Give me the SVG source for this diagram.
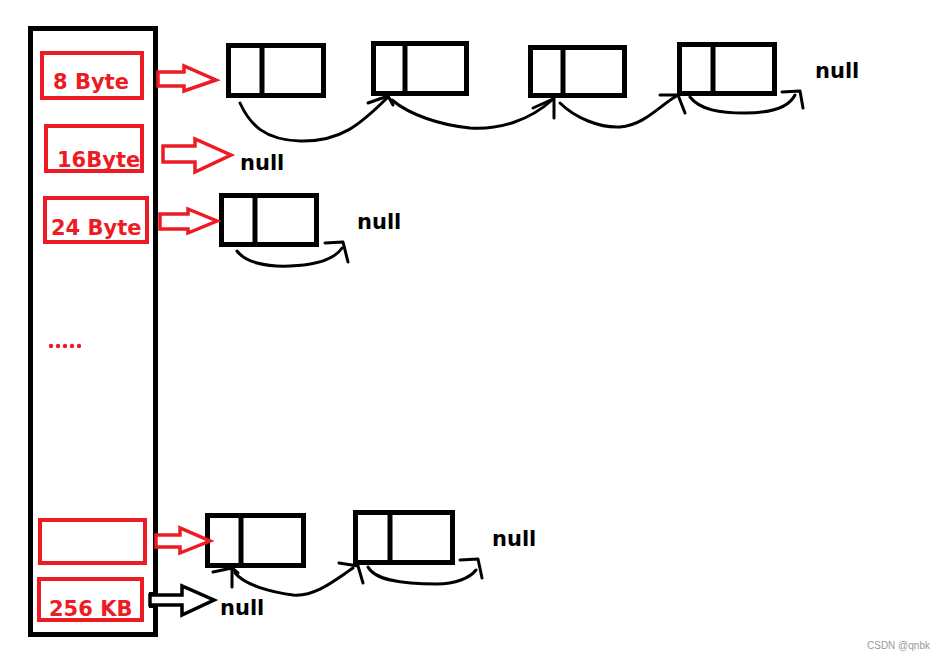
<svg xmlns="http://www.w3.org/2000/svg" width="939" height="661" viewBox="0 0 939 661">
<style>
.bg{fill:#fff}
.cont{fill:none;stroke:#000;stroke-width:5}
.slot{fill:none;stroke:#ed1c24;stroke-width:4}
.lbl{font-family:"DejaVu Sans",sans-serif;font-weight:bold;font-size:21px;fill:#ed1c24}
.nul{font-family:"DejaVu Sans",sans-serif;font-weight:bold;font-size:21px;fill:#000}
.node{fill:#fff;stroke:#000;stroke-width:5}
.div{stroke:#000;stroke-width:5}
.rarr{fill:#fff;stroke:#ed1c24;stroke-width:3.5;stroke-linejoin:miter}
.barr{fill:#fff;stroke:#000;stroke-width:3.5;stroke-linejoin:miter}
.cur{fill:none;stroke:#000;stroke-width:3;stroke-linecap:round;stroke-linejoin:round}
.wm{font-family:"Liberation Sans",Arial,sans-serif;font-size:10px;fill:#999}
</style>
<rect class="bg" x="0" y="0" width="939" height="661"/>
<g id="container">
<rect class="cont" x="30.5" y="28.5" width="125" height="606"/>
</g>
<g id="slot-8">
<rect class="slot" x="42" y="53" width="100" height="45"/>
<text class="lbl" x="53" y="89">8 Byte</text>
</g>
<g id="slot-16">
<rect class="slot" x="46" y="126" width="96" height="45"/>
<text class="lbl" x="57" y="167">16Byte</text>
</g>
<g id="slot-24">
<rect class="slot" x="45" y="198" width="102" height="44"/>
<text class="lbl" x="51" y="235">24 Byte</text>
</g>
<g id="dots" fill="#ed1c24">
<circle cx="51" cy="346" r="2.2"/><circle cx="58" cy="346" r="2.2"/><circle cx="65" cy="346" r="2.2"/><circle cx="72" cy="346" r="2.2"/><circle cx="79" cy="346" r="2.2"/>
</g>
<g id="slot-empty">
<rect class="slot" x="40" y="520" width="105" height="43"/>
</g>
<g id="slot-256k">
<rect class="slot" x="39" y="579" width="103" height="41"/>
<text class="lbl" x="49" y="616">256 KB</text>
</g>
<g id="row1-n1"><rect class="node" x="228.5" y="45.5" width="95" height="50"/><line class="div" x1="262" y1="45" x2="262" y2="96"/></g>
<g id="row1-n2"><rect class="node" x="373.5" y="43.5" width="93" height="50"/><line class="div" x1="405" y1="43" x2="405" y2="94"/></g>
<g id="row1-n3"><rect class="node" x="530.5" y="47.5" width="94" height="48"/><line class="div" x1="563" y1="47" x2="563" y2="96"/></g>
<g id="row1-n4"><rect class="node" x="679.5" y="44.5" width="95" height="49"/><line class="div" x1="713" y1="44" x2="713" y2="94"/></g>
<g id="row3-n1"><rect class="node" x="221.5" y="195.5" width="95" height="49"/><line class="div" x1="255" y1="195" x2="255" y2="245"/></g>
<g id="rowb-n1"><rect class="node" x="207.5" y="515.5" width="96" height="50"/><line class="div" x1="241" y1="515" x2="241" y2="566"/></g>
<g id="rowb-n2"><rect class="node" x="355.5" y="512.5" width="97" height="50"/><line class="div" x1="390" y1="512" x2="390" y2="563"/></g>
<g id="null-16"><text class="nul" x="240" y="170">null</text></g>
<g id="null-row1"><text class="nul" x="815" y="78">null</text></g>
<g id="null-row3"><text class="nul" x="357" y="229">null</text></g>
<g id="null-rowb"><text class="nul" x="492" y="546">null</text></g>
<g id="null-256k"><text class="nul" x="220" y="615">null</text></g>
<g id="connectors">
<polygon class="rarr" points="158,72 184,72 184,66 216,80 184,91 184,86 158,86"/>
<polygon class="rarr" points="163,146 195,146 195,139 231,155 195,172 195,162 163,162"/>
<polygon class="rarr" points="160,214 188,214 188,209 217,221 188,233 188,229 160,229"/>
<polygon class="rarr" points="156,535 180,535 180,528 210,541 180,553 180,547 156,547"/>
<rect x="149" y="592" width="8" height="16" fill="#000"/>
<polygon class="barr" points="150,595 182,595 182,586 214,600 182,615 182,605 150,605"/>
<path class="cur" d="M240,103 C250,125 265,140 300,141 C340,142 360,125 388,97"/>
<path class="cur" d="M368,103 L388,96 L393,105"/>
<path class="cur" d="M392,100 C410,115 440,125 470,128 C500,130 530,120 552,100"/>
<path class="cur" d="M533,108 L553,99 M554,98 L554,118"/>
<path class="cur" d="M560,103 C575,118 600,128 620,127 C645,125 660,105 678,95"/>
<path class="cur" d="M660,95 L678,95 L685,113"/>
<path class="cur" d="M690,97 C700,110 720,113 745,113 C775,113 790,105 795,95"/>
<path class="cur" d="M782,92 L800,91 L803,108"/>
<path class="cur" d="M237,251 C245,262 265,267 290,266 C320,265 335,258 342,248"/>
<path class="cur" d="M325,243 L343,242 L348,262"/>
<path class="cur" d="M232,587 L232,570 M213,572 L232,568 L238,573"/>
<path class="cur" d="M235,573 C245,585 270,592 293,595 C315,597 335,580 353,568"/>
<path class="cur" d="M339,563 L358,566 L363,583"/>
<path class="cur" d="M368,567 C375,580 400,584 437,584 C455,584 470,578 476,570"/>
<path class="cur" d="M460,560 L478,559 L482,578"/>
</g>
<text class="wm" x="867" y="649">CSDN @qnbk</text>
</svg>
